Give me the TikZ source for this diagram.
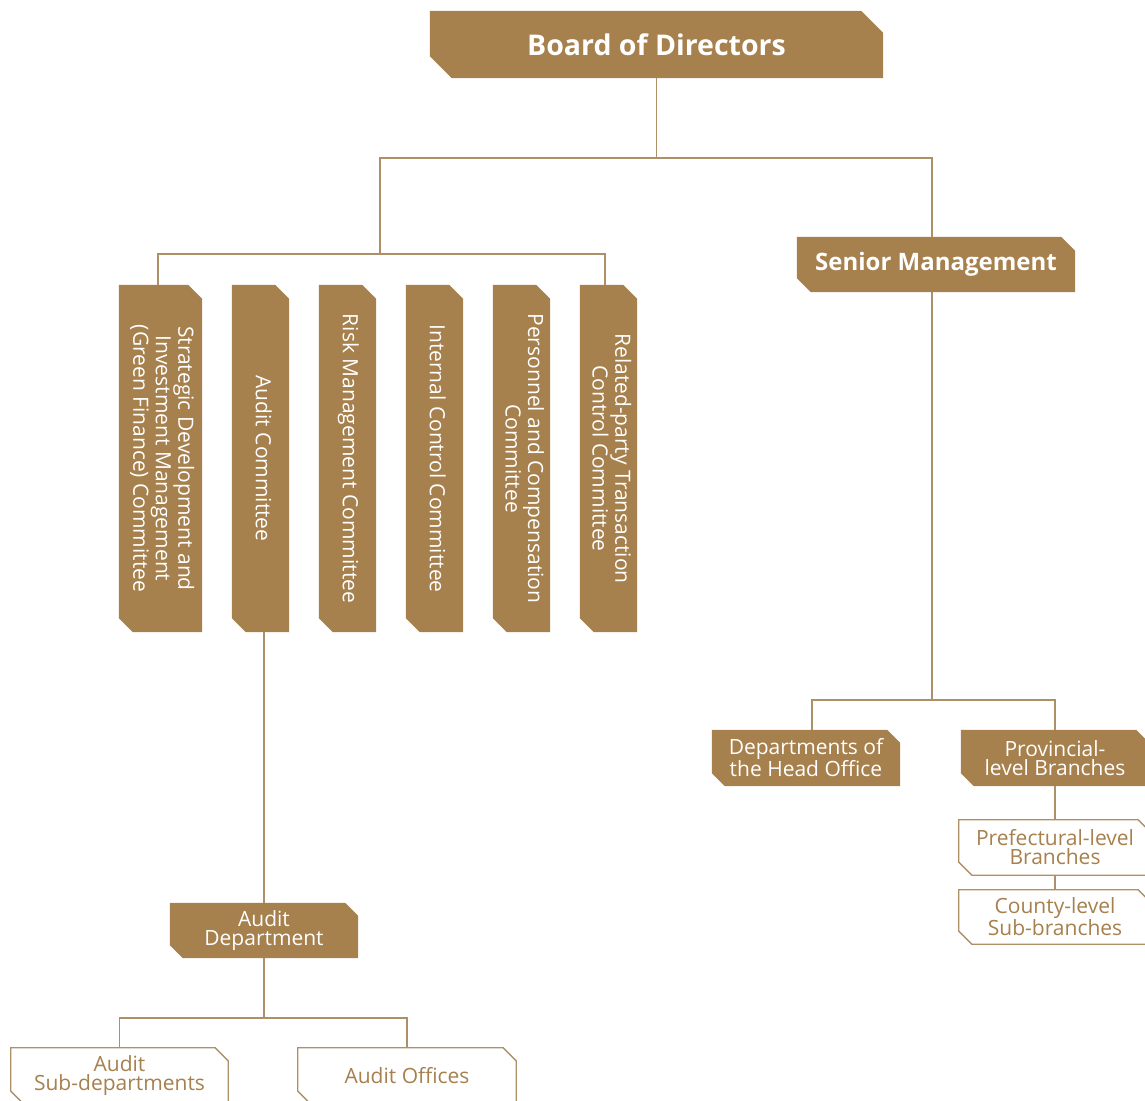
\documentclass[tikz,border=0pt]{standalone}
\usepackage{fontspec}
\setmainfont{Open Sans}
\usepackage{tikz}
\usetikzlibrary{positioning,calc,backgrounds}
\definecolor{BankGold}{HTML}{A6804D}
\definecolor{BankLine}{HTML}{AD9068}
\definecolor{BankWhite}{HTML}{FFFFFF}
\tikzset{
    % Base node style
    basenode/.style={
        inner sep=0pt,
        align=center,
        font=\fontsize{21}{19}\selectfont
    },
    % Filled box
    solidnode/.style={
        basenode,
        text=BankWhite,
        minimum width=188,
        minimum height=56
    },
    % Outlined box
    linenode/.style={
        basenode,
        text=BankGold,
        minimum width=192,
        minimum height=55
    },
    % Committee column
    columnnode/.style={
        basenode,
        text=BankWhite,
        minimum width=57,
        minimum height=347,
        font=\fontsize{21}{22.5}\selectfont
    },
    % Shape fills
    goldfill/.style={fill=BankGold},
    goldline/.style={draw=BankLine, fill=BankWhite, line width=1.3pt},
    % Connector
    link/.style={draw=BankLine, line width=1.3pt}
}
% cut top right and bottom left corners
\newcommand{\cutbox}[3]{%
    \path[#3] (#1.north west) -- ([xshift=-#2]#1.north east) -- ([yshift=-#2]#1.north east)
        -- (#1.south east) -- ([xshift=#2]#1.south west) -- ([yshift=#2]#1.south west) -- cycle;}
\newcommand{\vtext}[1]{\rotatebox{-90}{\begin{tabular}{@{}c@{}}#1\end{tabular}}}

\begin{document}
\begin{tikzpicture}[x=1pt, y=-1pt]
        \useasboundingbox (0,0) rectangle (1145,1100);

        % Top level
        \node[solidnode, minimum width=453, minimum height=67, font=\fontsize{28.5}{30}\selectfont\bfseries] (board) at (656.5,44.5) {Board of Directors};
        \node[solidnode, minimum width=278, minimum height=55, font=\fontsize{24}{26}\selectfont\bfseries] (senior) at (936,264.5) {Senior Management};

        % Committees
        \node[columnnode, minimum width=83] (strategy) at (160.5,458.5) {\vtext{Strategic Development and\\Investment Management\\(Green Finance) Committee}};
        \node[columnnode] (auditc) at (260.5,458.5) {\vtext{Audit Committee}};
        \node[columnnode] (risk) at (347.5,458.5) {\vtext{Risk Management Committee}};
        \node[columnnode] (internal) at (434.5,458.5) {\vtext{Internal Control Committee}};
        \node[columnnode] (personnel) at (521.5,458.5) {\vtext{Personnel and Compensation\\Committee}};
        \node[columnnode] (related) at (608.5,458.5) {\vtext{Related-party Transaction\\Control Committee}};

        % Audit line
        \node[solidnode, minimum height=55] (auditd) at (264,930.5) {Audit\\Department};
        \node[linenode, minimum width=217, minimum height=56] (auditsub) at (119.5,1076) {Audit\\Sub-departments};
        \node[linenode, minimum width=218, minimum height=56] (auditoff) at (407,1076) {Audit Offices};

        % Management line
        \node[solidnode] (headoffice) at (806,758) {Departments of\\the Head Office};
        \node[solidnode] (provincial) at (1055,758) {Provincial-\\level Branches};
        \node[linenode] (prefectural) at (1055,847.5) {Prefectural-level\\Branches};
        \node[linenode, minimum height=54] (county) at (1055,917) {County-level\\Sub-branches};

        % Shapes
        \begin{scope}[on background layer]
            \clip (0,0) rectangle (1145,1100);
            \cutbox{board}{22}{goldfill}
            \cutbox{senior}{14}{goldfill}
            \foreach \n in {strategy,auditc,risk,internal,personnel,related}
                {\cutbox{\n}{14}{goldfill}}
            \foreach \n in {auditd,headoffice,provincial}
                {\cutbox{\n}{13}{goldfill}}
            \foreach \n in {auditsub,auditoff,prefectural,county}
                {\cutbox{\n}{13}{goldline}}
        \end{scope}

        % Connectors
        \coordinate (boardbus) at (656.5,158);
        \coordinate (cmtbus) at (380,254);
        \coordinate (auditbus) at (264,1018);
        \coordinate (mgmtbus) at (932,700);
        \draw[link] (board.south) -- (boardbus);
        \draw[link] (cmtbus) |- (boardbus) -| ([xshift=-4]senior.north);
        \draw[link] ([xshift=-2.5]strategy.north) |- (cmtbus) -| ([xshift=-3.5]related.north);
        \draw[link] (auditc.south -| auditd.north) -- (auditd.north);
        \draw[link] (auditd.south) -- (auditbus);
        \draw[link] (auditsub.north) |- (auditbus) -| (auditoff.north);
        \draw[link] ([xshift=-4]senior.south) -- (mgmtbus);
        \draw[link] ([xshift=6]headoffice.north) |- (mgmtbus) -| (provincial.north);
        \draw[link] (provincial.south) -- (prefectural.north);
        \draw[link] (prefectural.south) -- (county.north);
    \end{tikzpicture}
\end{document}
